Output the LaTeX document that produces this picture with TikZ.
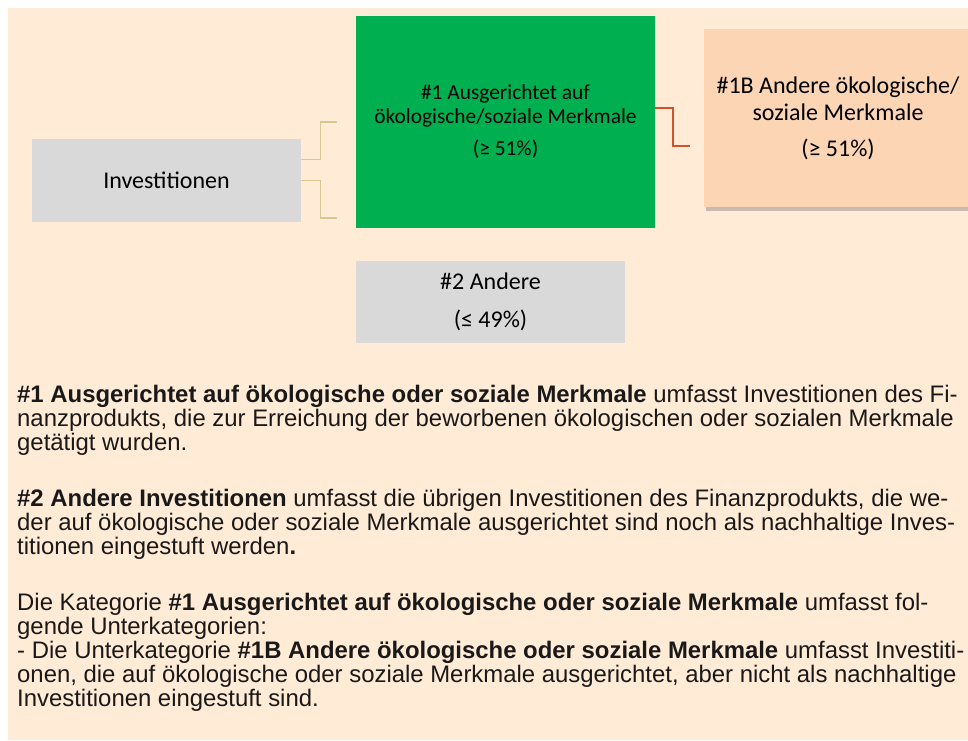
\documentclass[tikz,border=0pt]{standalone}
\usepackage{fontspec}
\setmainfont{Carlito}
\newfontfamily\arialfont{Liberation Sans}
\usetikzlibrary{shadows}
\definecolor{fondo}{HTML}{FFEBD6}
\definecolor{gris}{HTML}{D9D9D9}
\definecolor{verde}{HTML}{00B050}
\definecolor{naranja}{HTML}{FCD5B5}
\definecolor{ocre}{HTML}{D6C88E}
\definecolor{rojo}{HTML}{D0532F}
\tikzset{
	x=1pt, y=-1pt, % Coordenadas en pixeles, origen arriba a la izquierda
	caja/.style={inner sep=0pt, align=center, font=\fontsize{24}{27}\selectfont}, % Cajas del diagrama
	enlace/.style={ocre, line width=1.3pt}, % Lineas desde Investitionen
	enlacerojo/.style={rojo, line width=1.5pt}, % Linea hacia #1B
	texto/.style={inner sep=0pt, anchor=north west, align=left, text=black!90,
		font=\arialfont\fontsize{23.9}{24}\selectfont} % Texto explicativo
}

\begin{document}
\begin{tikzpicture}
	\useasboundingbox (0,0) rectangle (968,740);
	\fill[fondo] (8,8) rectangle (968,740);
	\begin{scope}
	\clip (0,0) rectangle (968,740);
	\node[caja, fill=gris, minimum width=269pt, minimum height=83pt] (inv) at (166.5,180.5) {Investitionen};
	\node[caja, fill=verde, minimum width=299pt, minimum height=212pt, font=\fontsize{21.4}{24}\selectfont] (eins) at (505.5,122)
		{\#1 Ausgerichtet auf\\ökologische/soziale Merkmale\\[8pt](≥ 51\%)};
	\node[caja, fill=naranja, minimum width=268pt, minimum height=178pt,
		drop shadow={shadow xshift=1.5pt, shadow yshift=-4pt, opacity=0.3, fill=black!70}] (einsb) at (838,118)
		{\#1B Andere ökologische/\\soziale Merkmale\\[9pt](≥ 51\%)};
	\node[caja, fill=gris, minimum width=269pt, minimum height=82pt] (zwei) at (490.5,302)
		{\#2 Andere\\[11pt](≤ 49\%)};
	\end{scope}
	\coordinate (a1) at (337,122);
	\coordinate (a2) at (337,218);
	\coordinate (b1) at (690,146);
	\draw[enlace] ([yshift=21pt]inv.east) -- ++(19,0) |- (a1);
	\draw[enlace] (inv.east) -- ++(19,0) |- (a2);
	\draw[enlacerojo] ([yshift=14pt]eins.east) -- ++(18,0) |- (b1);
	\node[texto] (erkl) at (17,385) {%
		\textbf{\#1 Ausgerichtet auf ökologische oder soziale Merkmale} umfasst Investitionen des Fi-\\
		nanzprodukts, die zur Erreichung der beworbenen ökologischen oder sozialen Merkmale\\
		getätigt wurden.\\[32pt]
		\textbf{\#2 Andere Investitionen} umfasst die übrigen Investitionen des Finanzprodukts, die we-\\
		der auf ökologische oder soziale Merkmale ausgerichtet sind noch als nachhaltige Inves-\\
		titionen eingestuft werden\textbf{.}\\[32pt]
		Die Kategorie \textbf{\#1 Ausgerichtet auf ökologische oder soziale Merkmale} umfasst fol-\\
		gende Unterkategorien:\\
		- Die Unterkategorie \textbf{\#1B Andere ökologische oder soziale Merkmale} umfasst Investiti-\\
		onen, die auf ökologische oder soziale Merkmale ausgerichtet, aber nicht als nachhaltige\\
		Investitionen eingestuft sind.};
\end{tikzpicture}
\end{document}
